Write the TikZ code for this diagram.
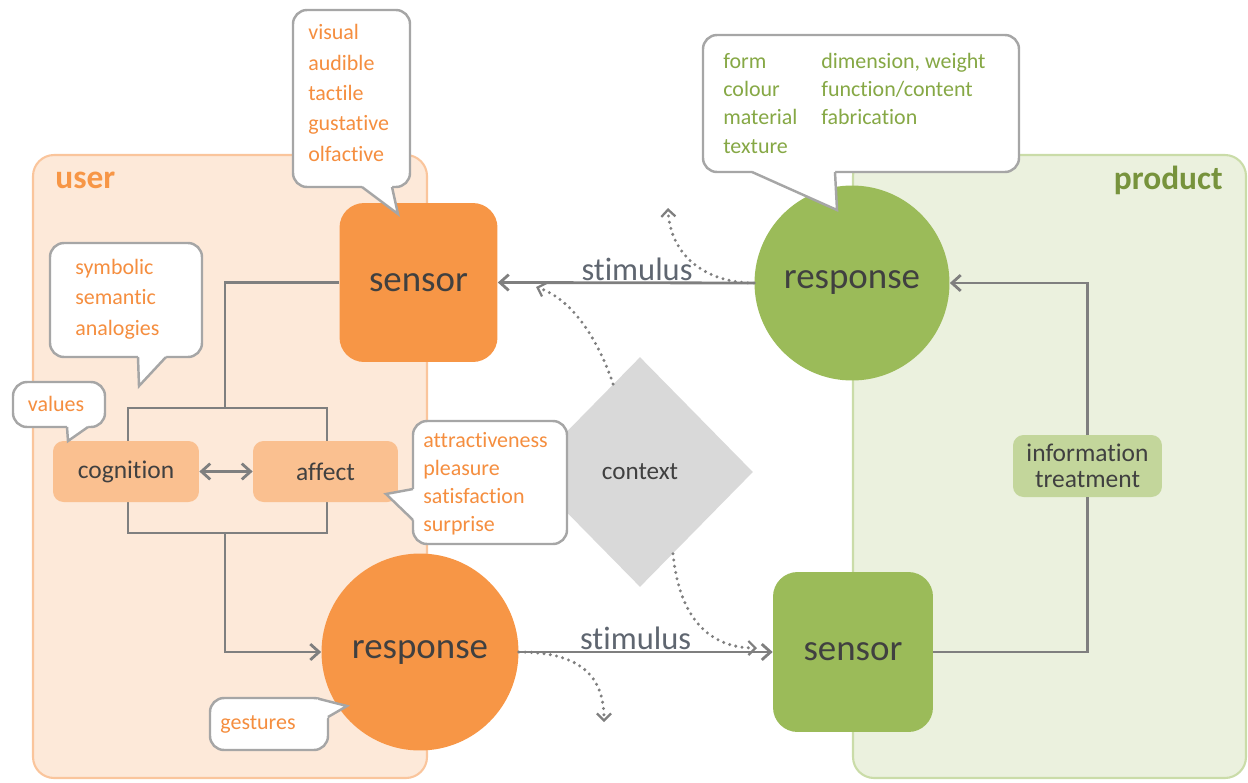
\documentclass[tikz,border=0pt]{standalone}
\usepackage{fontspec}
\setmainfont{Carlito}[Ligatures=NoCommon]
\usetikzlibrary{shapes,arrows.meta,calc}

\definecolor{orangemain}{HTML}{F79646}
\definecolor{orangelight}{HTML}{FAC090}
\definecolor{userbg}{HTML}{FDE9D9}
\definecolor{userline}{HTML}{FAC59C}
\definecolor{greenmain}{HTML}{9BBB59}
\definecolor{greenlight}{HTML}{C3D69B}
\definecolor{productbg}{HTML}{EBF1DE}
\definecolor{productline}{HTML}{CADCA8}
\definecolor{greentext}{HTML}{86A845}
\definecolor{greenlabel}{HTML}{77933C}
\definecolor{orangetext}{HTML}{F58E3F}
\definecolor{linegray}{HTML}{7F7F7F}
\definecolor{bubblegray}{HTML}{A6A6A6}
\definecolor{textdark}{HTML}{404040}
\definecolor{stimgray}{HTML}{5F6670}
\definecolor{ctxgray}{HTML}{D9D9D9}

\tikzstyle{panel_user} = [draw=userline, fill=userbg, line width=1.2pt, rounded corners=12pt]
\tikzstyle{panel_product} = [draw=productline, fill=productbg, line width=1.2pt, rounded corners=12pt]
\tikzstyle{node_big} = [inner sep=0pt, text=textdark, font=\fontsize{21}{24}\selectfont]
\tikzstyle{node_sensor} = [node_big, rectangle, rounded corners=14pt, minimum width=3.16cm, minimum height=3.18cm]
\tikzstyle{node_response} = [node_big, circle, minimum size=3.94cm]
\tikzstyle{node_small} = [rectangle, rounded corners=6pt, inner sep=0pt, text=textdark, font=\fontsize{14.5}{14.7}\selectfont, minimum height=1.22cm]
\tikzstyle{node_context} = [diamond, fill=ctxgray, inner sep=0pt, minimum width=4.52cm, minimum height=4.6cm, text=textdark, font=\fontsize{14.3}{15}\selectfont]
\tikzstyle{edge_normal} = [draw=linegray, line width=1.6pt]
\tikzstyle{edge_arrow} = [edge_normal, {Straight Barb[length=5pt,width=9pt]}-{Straight Barb[length=5pt,width=9pt]}]
\tikzstyle{edge_to} = [edge_normal, -{Straight Barb[length=5pt,width=9pt]}]
\tikzstyle{edge_dotted} = [draw=linegray, line width=1.9pt, line cap=round, dash pattern=on 0pt off 3.6pt, -{Straight Barb[length=4pt,width=8pt,line width=1.3pt]}]
\tikzstyle{bubble_box} = [draw=bubblegray, fill=white, line width=1.4pt, rounded corners=8pt]
\tikzstyle{bubble_line} = [draw=bubblegray, line width=1.4pt]
\tikzstyle{text_orange} = [text=orangetext, inner sep=0pt, align=left, font=\fontsize{12.5}{17.3}\selectfont]
\tikzstyle{text_green} = [text=greentext, inner sep=0pt, font=\fontsize{12.5}{16.2}\selectfont]
\tikzstyle{text_stimulus} = [text=stimgray, inner sep=0.5pt, font=\fontsize{18.5}{20}\selectfont]
\tikzstyle{text_panel} = [inner sep=0pt, font=\fontsize{19}{20}\selectfont\bfseries]

% box corners, pointer base, tip, pointer base, inward shift
\newcommand{\bubble}[6]{%
  \draw[bubble_box] #1 rectangle #2;
  \fill[white] ($#3+#6$) -- #3 -- #4 -- #5 -- ($#5+#6$) -- cycle;
  \draw[bubble_line] #3 -- #4 -- #5;
}

\begin{document}
\begin{tikzpicture}[x=0.02cm, y=-0.02cm]
		\useasboundingbox (0,0) rectangle (1248,782);
		% panels
		\draw[panel_user] (33,155) rectangle (427,778);
		\draw[panel_product] (853,155) rectangle (1246,778);
		\node[text_panel, text=orangemain, anchor=west] (user) at (55,180) {user};
		\node[text_panel, text=greenlabel, anchor=east] (product) at (1223,180) {product};
		
		% bracket round cognition and affect
		\coordinate (brack_top) at (225,408);
		\coordinate (brack_bot) at (225,533);
		\draw[edge_normal] (128,408) rectangle (327,533);
		
		\node[node_sensor, fill=orangemain] (usensor) at (418.5,282.5) {sensor};
		\node[node_response, fill=orangemain] (uresponse) at (420,652) {response};
		\node[node_small, fill=orangelight, minimum width=2.92cm] (cognition) at (126,471.5) {cognition};
		\node[node_small, fill=orangelight, minimum width=2.9cm] (affect) at (325.5,471.5) {affect};
		\node[node_response, fill=greenmain, minimum size=3.9cm] (presponse) at (852,283) {response};
		\node[node_sensor, fill=greenmain, minimum width=3.2cm, minimum height=3.2cm] (psensor) at (853,652) {sensor};
		\node[node_small, fill=greenlight, minimum width=2.98cm, minimum height=1.24cm, align=center] (info) at (1087.5,466) {information\\treatment};
		\node[node_context] (context) at (640,472) {context};
		
		\draw[edge_normal] (usensor.west) -| (brack_top);
		\draw[edge_to] (brack_bot) |- (uresponse.west);
		\draw[edge_arrow] (cognition.east) -- (affect.west);
		\draw[edge_to] (presponse.west) -- (usensor.east) node[text_stimulus, pos=0.457, above] {stimulus};
		\draw[edge_to] (uresponse.east) -- (psensor.west) node[text_stimulus, pos=0.46, above] {stimulus};
		\draw[edge_normal] (psensor.east) -| (info.south);
		\draw[edge_to] (info.north) |- (presponse.east);
		
		% context influence
		\coordinate (dot_up) at (668,208);
		\coordinate (dot_stim) at (536,287);
		\coordinate (dot_sensor) at (757,648);
		\coordinate (dot_down) at (604,722);
		\draw[edge_dotted] (presponse.west) .. controls (705,283) and (670,255) .. (dot_up);
		\draw[edge_dotted] (context.107) .. controls (600,345) and (575,300) .. (dot_stim);
		\draw[edge_dotted] (context.-68) .. controls (680,625) and (715,648) .. (dot_sensor);
		\draw[edge_dotted] (uresponse.east) .. controls (585,652) and (604,680) .. (dot_down);
		
		% callouts
		\bubble{(293,10)}{(410,187)}{(362,187)}{(398,214)}{(392,187)}{(0,-5)}
		\node[text_orange, anchor=west] (senses) at (308,93) {visual\\audible\\tactile\\gustative\\olfactive};
		\bubble{(703,35)}{(1019,172)}{(752,172)}{(837,210)}{(835,172)}{(0,-5)}
		\node[text_green, anchor=west] (props) at (723,105) {\begin{tabular}{@{}p{1.96cm}@{}l@{}}form & dimension, weight\\colour & function/content\\material & fabrication\\texture & \end{tabular}};
		\bubble{(50,243)}{(202,357)}{(138,357)}{(139,386)}{(166,357)}{(0,-5)}
		\node[text_orange, anchor=west] (meaning) at (75,299) {symbolic\\semantic\\analogies};
		\bubble{(13,382)}{(105,427)}{(67,427)}{(68,441)}{(88,427)}{(0,-5)}
		\node[text_orange] (values) at (56,404) {values};
		\bubble{(413,421)}{(567,544)}{(413,489)}{(386,494)}{(413,520)}{(5,0)}
		\node[text_orange, anchor=west, font=\fontsize{12.5}{15.9}\selectfont] (feelings) at (423,484) {attractiveness\\pleasure\\satisfaction\\surprise};
		\bubble{(210,698)}{(328,750)}{(318,698.6)}{(347,706)}{(328,717)}{(-5,5)}
		\node[text_orange] (gestures) at (258,724) {gestures};
\end{tikzpicture}
\end{document}
